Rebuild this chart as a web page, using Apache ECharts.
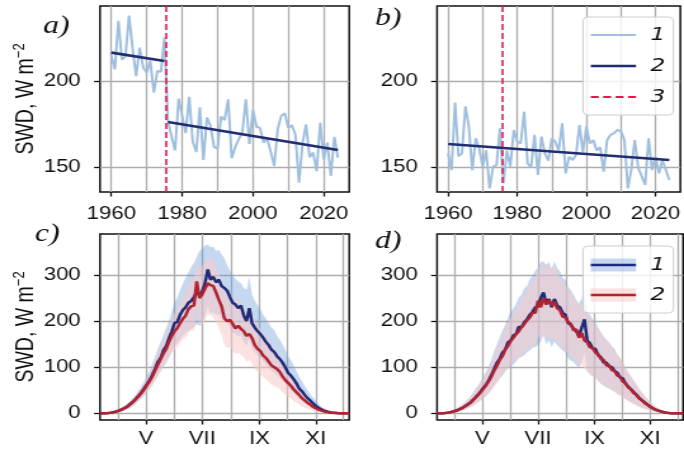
<!DOCTYPE html>
<html><head><meta charset="utf-8">
<script src="https://cdn.jsdelivr.net/npm/echarts@6/dist/echarts.min.js"></script>
<style>
html,body{margin:0;padding:0;background:#fff;overflow:hidden;width:684px;height:457px}
#wrap{width:539px;height:457px;transform:scaleX(1.26902);transform-origin:0 0}
</style></head><body><div id="wrap"></div>
<script>
// ---------- data ----------
const years = [1960,1961,1962,1963,1964,1965,1966,1967,1968,1969,
1970,1971,1972,1973,1974,1975,1976,1977,1978,1979,
1980,1981,1982,1983,1984,1985,1986,1987,1988,1989,
1990,1991,1992,1993,1994,1995,1996,1997,1998,1999,
2000,2001,2002,2003,2004,2005,2006,2007,2008,2009,
2010,2011,2012,2013,2014,2015,2016,2017,2018,2019,
2020,2021,2022,2023,2024];
const swdA = [215,207,235,212.5,214.5,238,219,203,219.5,208,
205,212,193.5,206,205.5,225.5,177,168,160,190,
180,170,191,165,159,185,154.5,179,174.5,162,
161,179.5,177.5,189.6,155.5,162,166.5,170.5,189.6,163.7,
183.5,173.7,173,164.5,167,159.3,151,172.5,180,181.5,
173,174.5,169,141.3,164,175,156,158.7,148,176,
154.8,164.5,145.2,167.8,155.8];
const swdB = [158.3,148.6,187.7,156.5,158.3,185.5,173.7,148.6,167,161,
150.5,160,138,150.6,151.5,172.8,141,160,150.6,171.8,
165,164,182.4,152.5,150,169,145.8,168,158.3,154,
167,165,160,175.7,146.7,156.4,154.4,157.3,174.7,159,
173.7,164,166,160,161.8,147.7,166,169,170,171.8,
171,166,138,149,166,150,145,140,167,148.6,
156.4,146.7,154.4,148.6,142.9];
const trendA1X = [1960, 1975], trendA1Y = [216.6, 211.8];
const trendA2X = [1976, 2024], trendA2Y = [176.4, 160.2];
const trendBX = [1960, 2024], trendBY = [163.7, 154.4];
const breakYear = 1975.5;
const yearGridVals = [1960,1970,1980,1990,2000,2010,2020];
const yearLabelVals = [1960,1980,2000,2020];
const swdTopTicks = [150, 200];
const swdBotTicks = [0, 100, 200, 300];
const monthStarts = [91,121,152,182,213,244,274,305,335];
const monthLabelDays = [121,182,244,305];
const monthLabelText = ['V','VII','IX','XI'];
const seriesNames = ['1','2','3'];

const doy = [71,74,77,80,83,86,89,92,95,98,
101,104,107,110,113,116,119,122,125,128,
131,134,137,140,143,146,149,152,155,158,
161,164,167,170,173,176,179,182,185,188,
191,194,197,200,203,206,209,212,215,218,
221,224,227,230,233,236,239,242,245,248,
251,254,257,260,263,266,269,272,275,278,
281,284,287,290,293,296,299,302,305,308,
311,314,317,320,323,326,329,332,335,338,
341];
// panel c
const cMean1 = [0,0,0.3,0.8,1.5,2.5,4,6,8.5,11.5,
15,20,25,31,38,45,54,63,72,84,
97,112,120,137,146,163,178,196,198,214,
224,230,240,244,252,262,256,264,282,312,
290,296,284,290,276,272,266,252,240,236,
228,234,212,200,228,195,186,178,172,164,
155,148,138,133,124,118,110,100,88,82,
74,65,54,48,40,33,28,22,16,12,
8.5,6,4,2.5,1.5,1,0.5,0.2,0,0,
0];
const cMean2 = [0,0,0.3,0.8,1.5,2.5,4,6,8.5,11.5,
15,20,25,31,37,44,52,61,70,80,
93,106,118,130,140,155,168,178,185,196,
205,212,226,232,234,286,250,258,270,282,
278,276,262,246,232,206,200,203,194,184,
190,183,178,168,172,163,148,140,135,125,
120,112,104,100,96,90,80,72,66,60,
52,46,40,33,28,23,19,14,11,8,
6,4,3,2,1.2,0.7,0.3,0.1,0,0,
0];
const cHi1 = [0,0,0.6,1.5,3,4.5,7,10,13,17,
22,28,34,41,50,59,70,81,93,108,
124,140,156,170,186,200,222,240,252,268,
282,294,306,318,326,340,352,358,364,366,
360,362,352,355,345,336,322,310,300,292,
286,282,272,268,296,258,244,234,226,214,
206,196,186,180,168,160,150,138,124,116,
104,92,80,70,60,50,42,35,27,21,
15,11,8,5,3,2,1,0.4,0,0,
0];
const cLo1 = [0,0,0.1,0.3,0.6,1,1.8,3,4.5,6.5,
9,12,16,21,26,32,39,46,53,62,
72,82,92,102,112,122,134,148,152,160,
168,174,178,184,186,194,190,196,212,232,
216,220,214,214,206,200,196,184,176,172,
166,170,154,146,162,140,132,126,120,114,
106,100,92,88,82,76,70,64,56,50,
44,38,31,27,22,18,15,11,8,6,
4,3,2,1.2,0.7,0.4,0.2,0.1,0,0,
0];
const cHi2 = [0,0,0.6,1.5,3,4.5,7,10,13,17,
22,27,33,40,48,56,66,76,87,100,
115,130,145,160,172,190,204,216,226,240,
252,262,278,288,294,330,312,320,326,338,
336,330,320,304,292,268,260,262,252,242,
248,240,234,222,226,216,200,190,184,172,
166,156,146,140,134,126,114,104,96,88,
78,70,61,52,45,38,31,24,19,14,
10.5,7.5,5.5,3.5,2.2,1.3,0.6,0.2,0,0,
0];
const cLo2 = [0,0,0.1,0.3,0.6,1,1.8,3,4.5,6.5,
9,13,17,22,27,32,38,46,53,60,
70,80,90,100,108,120,130,138,144,152,
160,164,176,180,178,222,190,194,200,216,
212,208,198,184,170,148,142,144,136,128,
132,126,122,112,116,108,96,90,86,78,
74,68,62,60,56,52,46,40,36,32,
27,23,19,15,12,9.5,7.5,5.5,4,3,
2,1.3,0.9,0.6,0.4,0.2,0.1,0,0,0,
0];
// panel d
const dMean1 = [0,0,0.3,0.8,1.5,2.5,4,5.5,8,10.5,
14,18,22,28,34,40,47,55,62,72,
84,97,110,118,132,138,154,158,169,172,
188,186,198,204,214,220,230,232,250,262,
238,248,230,248,234,230,218,214,196,192,
184,178,168,186,204,158,152,140,140,126,
122,110,110,102,100,92,88,78,76,64,
58,52,46,40,34,28,24,19,15,11,
8,6,4,2.5,1.5,0.8,0.4,0.2,0,0,
0];
const dMean2 = [0,0,0.3,0.8,1.5,2.5,4,5.5,8,10.5,
14,18,22,27,33,39,46,53,61,70,
80,93,103,116,124,138,146,157,164,172,
178,188,194,202,208,218,218,244,230,250,
236,246,234,242,228,224,210,208,198,194,
180,182,164,174,158,154,143,142,132,128,
118,116,104,104,94,92,82,80,69,66,
56,52,44,40,32,29,22,19,14,11,
8,6,4,2.5,1.5,0.8,0.4,0.2,0,0,
0];
const dHi1 = [0,0,0.6,1.6,3,5,7.5,10,14,18,
23,29,35,43,52,60,70,80,90,104,
118,136,150,166,180,192,208,220,228,238,
252,258,272,276,292,298,310,314,328,330,
322,328,314,330,316,308,294,290,274,268,
258,246,238,250,268,226,214,204,198,186,
176,166,160,154,146,140,128,120,110,100,
88,80,70,62,53,44,38,31,25,19,
14,10.5,7,4.5,2.8,1.5,0.8,0.3,0,0,
0];
const dLo1 = [0,0,0.1,0.3,0.6,1,1.8,2.8,4,5.5,
7.5,10,12.5,16,20,24,28,33,38,44,
52,60,68,76,82,90,98,104,106,112,
120,122,126,132,136,142,144,148,156,170,
150,158,144,156,148,142,136,132,120,114,
112,104,100,112,130,92,86,80,78,70,
64,60,56,54,50,48,42,40,36,32,
28,24,21,18,15,12,10,7.5,6,4.2,
3,2.2,1.4,0.9,0.5,0.3,0.1,0,0,0,
0];
const dHi2 = [0,0,0.6,1.6,3,5,7.5,10,14,18,
23,29,35,42,50,58,68,77,88,100,
112,128,142,156,170,182,198,206,220,226,
240,248,260,266,280,288,294,320,310,330,
316,324,314,320,308,298,286,280,272,262,
250,248,232,240,226,216,208,202,194,184,
176,168,158,152,144,136,128,120,110,100,
90,81,72,64,55,47,40,32,26,20,
15,11,7.5,4.8,3,1.6,0.8,0.3,0,0,
0];
const dLo2 = [0,0,0.1,0.3,0.6,1,1.8,2.8,4,5.5,
7.5,10,12.5,15,19,23,27,32,37,43,
50,58,66,74,82,90,98,104,112,116,
122,126,134,136,142,146,148,168,156,172,
162,166,158,162,154,148,140,134,130,124,
116,114,102,106,96,90,84,80,76,70,
66,62,56,54,50,46,42,38,34,30,
26,23,20,17,14,11.5,9.5,7.5,5.8,4.4,
3.2,2.3,1.5,0.9,0.5,0.3,0.1,0,0,0,
0];

// ---------- styles ----------
const FONT = 'Liberation Sans';
const LB = '#9fbfdf', NAVY = '#222d6e', RED = '#e8174b';
const NAVY2 = '#1f2b7a', RED2 = '#b3222f';
const BAND1 = 'rgba(100,155,215,0.38)', BAND2 = 'rgba(250,200,200,0.55)';
const GRIDC = '#adadad', INK = '#111';
const yearMin = 1956.8, yearMax = 2027.2;
const topMin = 135.9, topMax = 243.6;
const doyMin = 71.2, doyMax = 341.3;
const botMin = -14.5, botMax = 389;

const grids = [
  {left:78.8, top:6, width:196.4, height:186},
  {left:344.4, top:6, width:193.9, height:186},
  {left:78.8, top:234, width:196.4, height:186},
  {left:344.4, top:234, width:193.9, height:186}
].map(g => Object.assign(g, {show:true, borderColor:INK, borderWidth:1.5, backgroundColor:'transparent'}));

function gridX(i, min, max, vals) {
  return {gridIndex:i, type:'value', min, max, position:'bottom',
    axisLine:{show:false, onZero:false},
    axisTick:{show:false, customValues:vals},
    axisLabel:{show:false},
    splitLine:{show:true, lineStyle:{color:GRIDC, width:1.35}}};
}
function labelX(i, min, max, vals, fmt, margin) {
  return {gridIndex:i, type:'value', min, max, position:'bottom',
    axisLine:{show:false, onZero:false},
    axisTick:{show:true, customValues:vals, length:4.5, lineStyle:{color:INK, width:1.3}},
    axisLabel:{show:true, customValues:vals, formatter:fmt, margin, fontSize:17.5, fontFamily:FONT, color:INK},
    splitLine:{show:false}};
}
const yName = '{m|SWD, W m}{s|\u22122}';
function yAx(i, min, max, vals, withName) {
  const a = {gridIndex:i, type:'value', min, max,
    axisLine:{show:false, onZero:false},
    axisTick:{show:true, customValues:vals, length:4.7, lineStyle:{color:INK, width:1.3}},
    axisLabel:{show:true, customValues:vals, margin:15.2, fontSize:17.5, fontFamily:FONT, color:INK, formatter:v=>String(v)},
    splitLine:{show:true, lineStyle:{color:GRIDC, width:1.35}}};
  if (withName) {
    a.name = yName; a.nameLocation = 'middle'; a.nameRotate = 90; a.nameGap = 46;
    a.nameTextStyle = {color:INK, fontFamily:FONT, fontSize:19.5,
      rich:{m:{fontSize:19.5, fontFamily:FONT, color:INK, lineHeight:24},
            s:{fontSize:13, fontFamily:FONT, color:INK, lineHeight:13, verticalAlign:'top'}}};
  }
  return a;
}
const yearFmt = v => String(v);
const monthFmt = v => monthLabelText[monthLabelDays.indexOf(v)] || '';

const xAxis = [
  gridX(0, yearMin, yearMax, yearGridVals),
  gridX(1, yearMin, yearMax, yearGridVals),
  gridX(2, doyMin, doyMax, monthStarts),
  gridX(3, doyMin, doyMax, monthStarts),
  labelX(0, yearMin, yearMax, yearLabelVals, yearFmt, 13),
  labelX(1, yearMin, yearMax, yearLabelVals, yearFmt, 13),
  labelX(2, doyMin, doyMax, monthLabelDays, monthFmt, 10),
  labelX(3, doyMin, doyMax, monthLabelDays, monthFmt, 10)
];
const yAxis = [
  yAx(0, topMin, topMax, swdTopTicks, true),
  yAx(1, topMin, topMax, swdTopTicks, false),
  yAx(2, botMin, botMax, swdBotTicks, true),
  yAx(3, botMin, botMax, swdBotTicks, false)
];

const pairs = (xs, ys) => xs.map((x, i) => [x, ys[i]]);
function lineS(name, k, data, color, width, z) {
  return {name, type:'line', xAxisIndex:k, yAxisIndex:k, data, symbol:'none', color,
    itemStyle:{color}, lineStyle:{color, width}, z: z || 2, silent:true};
}
function breakS(name, k) {
  return {name, type:'line', xAxisIndex:k, yAxisIndex:k, data:[], color:RED, itemStyle:{color:RED}, z:4,
    markLine:{silent:true, symbol:['none','none'], label:{show:false},
      lineStyle:{color:RED, width:1.6, type:[6,3]}, data:[{xAxis:breakYear}]}};
}
// band between lo and hi, drawn as one polygon through the axis scales
function bandS(id, k, lo, hi, color) {
  return {name:id, type:'custom', xAxisIndex:k, yAxisIndex:k, silent:true, clip:true, z:1,
    data: doy.map((x, i) => [x, lo[i], hi[i]]),
    encode:{x:0, y:[1, 2]},
    renderItem:(params, api) => {
      if (params.dataIndex !== 0) return null;
      const up = doy.map((x, i) => api.coord([x, hi[i]]));
      const dn = doy.map((x, i) => api.coord([x, lo[i]])).reverse();
      return {type:'polygon', shape:{points: up.concat(dn)}, style:{fill:color}};
    }};
}

const series = [
  lineS('a1', 0, pairs(years, swdA), LB, 2),
  lineS('a2', 0, pairs(trendA1X, trendA1Y), NAVY, 2.6, 3),
  lineS('a2b', 0, pairs(trendA2X, trendA2Y), NAVY, 2.6, 3),
  breakS('a3', 0),
  lineS('b1', 1, pairs(years, swdB), LB, 2),
  lineS('b2', 1, pairs(trendBX, trendBY), NAVY, 2.6, 3),
  breakS('b3', 1),
  bandS('cb1', 2, cLo1, cHi1, BAND1),
  bandS('cb2', 2, cLo2, cHi2, BAND2),
  lineS('c1', 2, pairs(doy, cMean1), NAVY2, 2.5, 3),
  lineS('c2', 2, pairs(doy, cMean2), RED2, 2.5, 3),
  bandS('db1', 3, dLo1, dHi1, BAND1),
  bandS('db2', 3, dLo2, dHi2, BAND2),
  lineS('d1', 3, pairs(doy, dMean1), NAVY2, 2.5, 3),
  lineS('d2', 3, pairs(doy, dMean2), RED2, 2.5, 3)
];

const solidIcon = t => 'path://M0,0M42,14M0,' + (7 - t/2) + 'H35.7V' + (7 + t/2) + 'H0Z';
const dashIcon = 'path://M0,0M42,14M0,6.1h6.3v1.8h-6.3zM9.8,6.1h6.3v1.8h-6.3zM19.6,6.1h6.3v1.8h-6.3zM29.4,6.1h6.3v1.8h-6.3z';
const legendText = {fontFamily:'DejaVu Sans', fontStyle:'italic', fontSize:18.5, color:INK, lineHeight:20};

const titleStyle = {fontFamily:'Liberation Serif', fontStyle:'italic', fontWeight:'normal', fontSize:25, color:INK};
const option = {
  animation:false,
  textStyle:{fontFamily:FONT},
  grid: grids,
  xAxis, yAxis, series,
  title:[
    {text:'a)', left:34.1, top:14, padding:0, textStyle:titleStyle},
    {text:'b)', left:295.5, top:6, padding:0, textStyle:titleStyle},
    {text:'c)', left:27.6, top:222, padding:0, textStyle:titleStyle},
    {text:'d)', left:295.5, top:229, padding:0, textStyle:titleStyle}
  ],
  legend:[
    {orient:'vertical', left:459.4, top:17, padding:[8,6.4,8,6.1], itemGap:11, itemWidth:42, itemHeight:14,
      backgroundColor:'rgba(255,255,255,0.8)', borderColor:'#cccccc', borderWidth:1, borderRadius:4,
      selectedMode:false, textStyle:legendText, itemStyle:{borderWidth:0},
      formatter:n => seriesNames[Number(n.slice(1)) - 1],
      data:[{name:'b1', icon:solidIcon(2)}, {name:'b2', icon:solidIcon(2.5)}, {name:'b3', icon:dashIcon}]},
    {orient:'vertical', left:459.4, top:246, padding:[9,6.4,8,6.1], itemGap:10, itemWidth:42, itemHeight:14,
      backgroundColor:'transparent', borderWidth:0,
      selectedMode:false, textStyle:legendText, itemStyle:{borderWidth:0},
      formatter:n => seriesNames[Number(n.slice(1)) - 1],
      data:[{name:'d1', icon:solidIcon(2.5)}, {name:'d2', icon:solidIcon(2.5)}]}
  ],
  graphic:[
    {type:'rect', z:3, silent:true, shape:{x:459.4, y:246, width:71.3, height:67, r:4},
      style:{fill:'rgba(255,255,255,0.8)', stroke:'#cccccc', lineWidth:1}},
    {type:'rect', z:3, silent:true, shape:{x:465.5, y:258.5, width:35.7, height:13}, style:{fill:BAND1}},
    {type:'rect', z:3, silent:true, shape:{x:465.5, y:288.5, width:35.7, height:13}, style:{fill:BAND2}}
  ]
};
const chart = echarts.init(document.getElementById('wrap'), null, {renderer:'canvas', width:539, height:457});
chart.setOption(option);
</script></body></html>
